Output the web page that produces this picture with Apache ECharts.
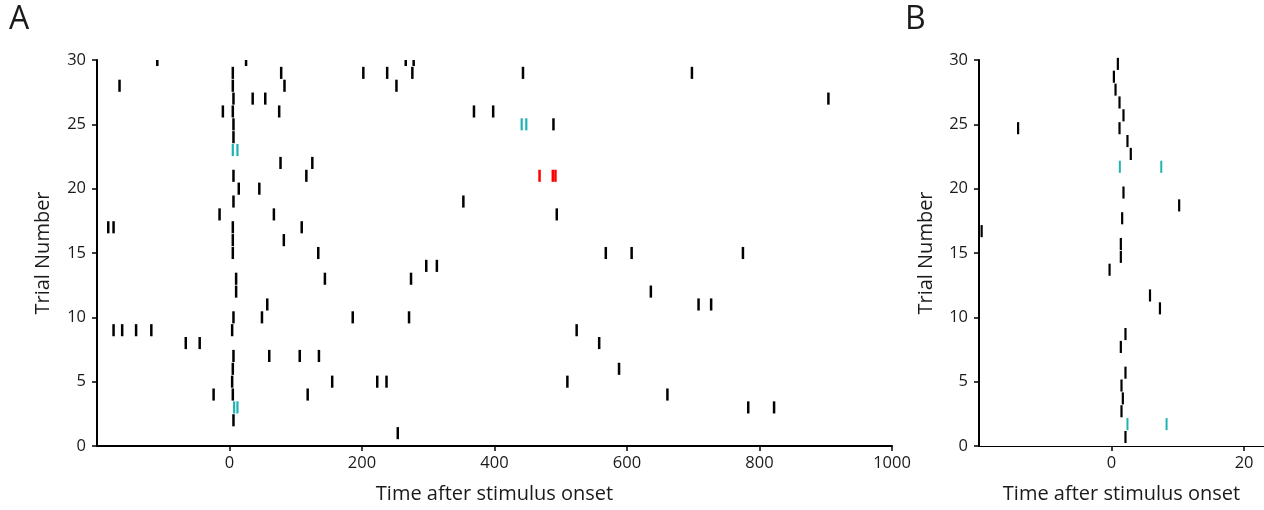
<!DOCTYPE html>
<html>
<head>
<meta charset="utf-8">
<script src="https://cdn.jsdelivr.net/npm/echarts@6/dist/echarts.min.js"></script>
<style>html,body{margin:0;padding:0;background:#fff}#c{width:1264px;height:510px}</style>
</head>
<body>
<div id="c"></div>
<script>
// ---- data (time, trial) ----
const spikesA_black = [
  [-109,30],[25,30],[266,30],[278,30],
  [5,29],[78,29],[202,29],[238,29],[276,29],[443,29],[698,29],
  [-166,28],[5,28],[83,28],[252,28],
  [6,27],[35,27],[54,27],[904,27],
  [-10,26],[5,26],[75,26],[369,26],[398,26],
  [6,25],[489,25],
  [6,24],
  [77,22],[125,22],
  [6,21],[116,21],
  [14,20],[45,20],
  [6,19],[353,19],
  [-15,18],[67,18],[494,18],
  [-183,17],[-175,17],[5,17],[109,17],
  [5,16],[82,16],
  [5,15],[134,15],[568,15],[607,15],[775,15],
  [297,14],[313,14],
  [10,13],[144,13],[274,13],
  [10,12],[636,12],
  [57,11],[708,11],[727,11],
  [6,10],[49,10],[186,10],[271,10],
  [-175,9],[-162,9],[-141,9],[-118,9],[4,9],[524,9],
  [-66,8],[-45,8],[558,8],
  [6,7],[60,7],[106,7],[135,7],
  [5,6],[588,6],
  [4,5],[155,5],[223,5],[237,5],[510,5],
  [-24,4],[5,4],[118,4],[661,4],
  [783,3],[822,3],
  [6,2],
  [254,1]
];
const spikesA_cyan = [[441,25],[448,25],[5,23],[12,23],[7,3],[12,3]];
const spikesA_red = [[468,21],[488,21],[492,21]];

const spikesB_black = [
  [0.95,30],[0.35,29],[0.6,28],[1.2,27],[1.8,26],[1.2,25],[-14.1,25],
  [2.4,24],[2.9,23],[1.8,20],[10.2,19],[1.6,18],[-19.6,17],[1.4,16],
  [1.4,15],[-0.3,14],[5.8,12],[7.3,11],[2.1,9],[1.4,8],[2.1,6],[1.5,5],
  [1.7,4],[1.5,3],[2.1,1]
];
const spikesB_cyan = [[1.25,22],[7.5,22],[2.4,2],[8.3,2]];

const xTicksA = [0,200,400,600,800,1000];
const xTicksB = [0,20];
const yTicks = [0,5,10,15,20,25,30];

// ---- chart ----
const FONT = 'Open Sans';
const TXT = '#1a1a1a';
function spike(offset, width) {
  return function (params, api) {
    const x = api.value(0), t = api.value(1);
    const p1 = api.coord([x, t - 0.47 + offset]);
    const p2 = api.coord([x, t + 0.47 + offset]);
    return {type:'line', shape:{x1:p1[0],y1:p1[1],x2:p2[0],y2:p2[1]},
      style:{stroke: api.visual('color'), lineWidth: width}};
  };
}
const plain = v => String(v);
function xAxis(idx, min, max, ticks, lw) {
  return {
    type:'value', gridIndex: idx, min: min, max: max,
    name:'Time after stimulus onset', nameLocation:'middle', nameGap: 38,
    nameTextStyle:{fontFamily:FONT, fontSize:20, color:TXT},
    axisLine:{show:true, onZero:false, lineStyle:{color:'#000', width:lw}},
    axisTick:{show:true, length:5, customValues: ticks, lineStyle:{color:'#000', width:1.5}},
    axisLabel:{customValues: ticks, formatter: plain, margin:9, fontFamily:FONT, fontSize:16.5, color:TXT},
    splitLine:{show:false}
  };
}
function yAxis(idx, gap) {
  return {
    type:'value', gridIndex: idx, min:0, max:30,
    name:'Trial Number', nameLocation:'middle', nameGap: gap,
    nameTextStyle:{fontFamily:FONT, fontSize:20, color:TXT},
    axisLine:{show:true, onZero:false, lineStyle:{color:'#000', width:2}},
    axisTick:{show:true, length:5, customValues: yTicks, lineStyle:{color:'#000', width:1.5}},
    axisLabel:{customValues: yTicks, formatter: plain, margin:11, fontFamily:FONT, fontSize:16.5, color:TXT},
    splitLine:{show:false}
  };
}
const chart = echarts.init(document.getElementById('c'), null, {renderer:'canvas'});
chart.setOption({
  animation:false,
  backgroundColor:'#fff',
  grid:[
    {left:97, top:60, width:795, height:386},
    {left:979, top:60, width:285, height:386}
  ],
  xAxis:[ xAxis(0, -200, 1000, xTicksA, 2), xAxis(1, -20, 23, xTicksB, 1.2) ],
  yAxis:[ yAxis(0, 44), yAxis(1, 43) ],
  graphic:[
    {type:'text', left:9, top:4, style:{text:'A', fontFamily:FONT, fontSize:32, fill:TXT}},
    {type:'text', left:905, top:4, style:{text:'B', fontFamily:FONT, fontSize:32, fill:TXT}}
  ],
  series:[
    {type:'custom', xAxisIndex:0, yAxisIndex:0, clip:true, color:'#000', renderItem:spike(0,2.5), data:spikesA_black, encode:{x:0,y:1}},
    {type:'custom', xAxisIndex:0, yAxisIndex:0, clip:true, color:'#1FB3B3', renderItem:spike(0,2.2), data:spikesA_cyan, encode:{x:0,y:1}},
    {type:'custom', xAxisIndex:0, yAxisIndex:0, clip:true, color:'#FF0000', renderItem:spike(0,2.5), data:spikesA_red, encode:{x:0,y:1}},
    {type:'custom', xAxisIndex:1, yAxisIndex:1, clip:false, color:'#000', renderItem:spike(-0.3,2.2), data:spikesB_black, encode:{x:0,y:1}},
    {type:'custom', xAxisIndex:1, yAxisIndex:1, clip:false, color:'#1FB3B3', renderItem:spike(-0.3,2), data:spikesB_cyan, encode:{x:0,y:1}}
  ]
});
</script>
</body>
</html>
